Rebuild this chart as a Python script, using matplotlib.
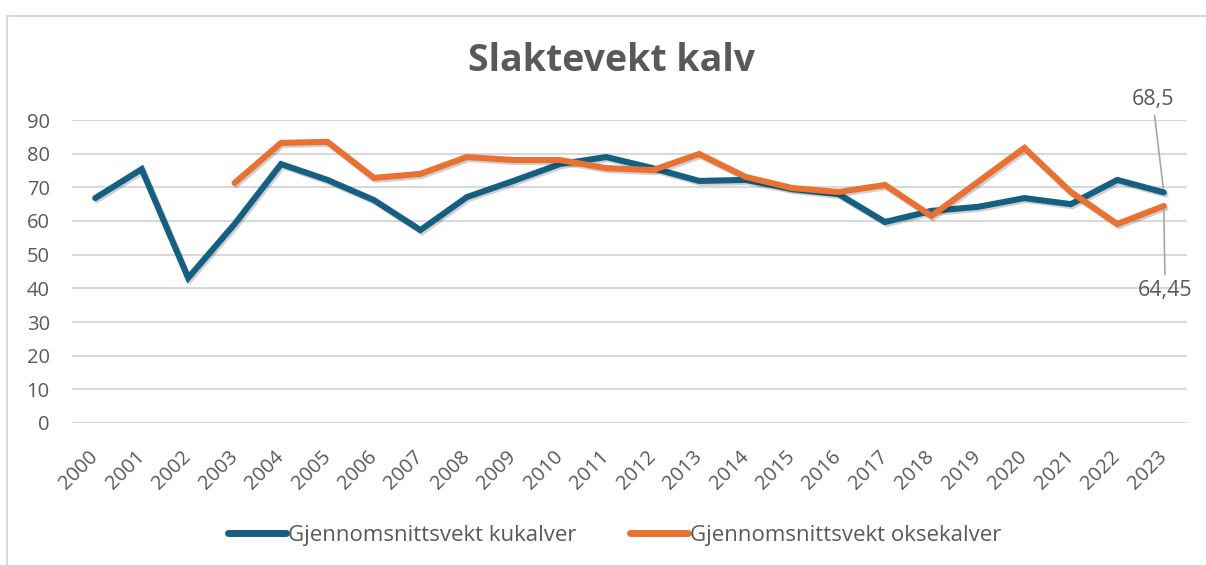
import matplotlib

matplotlib.use("Agg")

import numpy as np
from matplotlib import pyplot as plt
from matplotlib import patheffects as pe
from matplotlib.lines import Line2D

# data
years = [str(y) for y in range(2000, 2024)]
kukalver = [66.8, 75.4, 43.1, 59.1, 76.9, 72.2, 66.2, 57.3, 67.1, 71.9, 76.9, 79.0,
            75.7, 71.9, 72.2, 69.5, 68.0, 59.7, 63.0, 64.2, 66.8, 65.0, 72.2, 68.5]
oksekalver = [np.nan, np.nan, np.nan, 71.3, 83.2, 83.5, 72.8, 74.0, 79.0, 78.1, 78.1,
              75.7, 75.1, 79.9, 73.1, 69.8, 68.6, 70.7, 61.5, 71.6, 81.7, 68.6, 59.1, 64.45]
y_ticks = list(range(0, 100, 10))

BLUE = "#156082"
ORANGE = "#E97132"
TEXT = "#595959"
GRID = "#D9D9D9"
FONT = ["Open Sans", "DejaVu Sans"]

plt.rcParams["font.family"] = FONT

fig = plt.figure(figsize=(12.06, 5.65), dpi=100)
W, H = 1206, 565
ax = fig.add_axes([72 / W, 1 - 423 / H, (1187 - 72) / W, (423 - 120) / H])

shadow = [pe.SimpleLineShadow(offset=(1.2, -1.5), alpha=0.18, shadow_color="black"), pe.Normal()]
x = np.arange(len(years))
ax.plot(x, kukalver, color=BLUE, lw=4.4, solid_capstyle="round", solid_joinstyle="miter",
        path_effects=shadow, zorder=3)
ax.plot(x, oksekalver, color=ORANGE, lw=4.4, solid_capstyle="round", solid_joinstyle="miter",
        path_effects=shadow, zorder=3)

ax.set_xlim(-0.5, len(years) - 0.5)
ax.set_ylim(0, 90)
ax.set_yticks(y_ticks)
ax.set_xticks(x)
ax.set_xticklabels(years, rotation=45, ha="right", va="center", rotation_mode="anchor")
ax.tick_params(axis="both", length=0, labelsize=14.5, labelcolor=TEXT)
ax.tick_params(axis="x", pad=22)
ax.tick_params(axis="y", pad=16)
ax.grid(axis="y", color=GRID, lw=1.5)
ax.set_axisbelow(True)
for s in ax.spines.values():
    s.set_visible(False)

# end-point labels with leader lines
ax.annotate("68,5", xy=(x[-1], kukalver[-1]), xytext=(-8, 67), textcoords="offset points",
            ha="center", va="center", fontsize=15.5, color=TEXT,
            arrowprops=dict(arrowstyle="-", color="#A6A6A6", lw=1.2, shrinkA=2, shrinkB=3))
ax.annotate("64,45", xy=(x[-1], oksekalver[-1]), xytext=(1, -61), textcoords="offset points",
            ha="center", va="center", fontsize=15.5, color=TEXT,
            arrowprops=dict(arrowstyle="-", color="#A6A6A6", lw=1.2, shrinkA=2, shrinkB=3))

fig.text(612 / W, 1 - 61 / H, "Slaktevekt kalv", ha="center", va="center",
         fontsize=27, fontweight="bold", color=TEXT)

handles = [Line2D([], [], color=BLUE, lw=5, solid_capstyle="round"),
           Line2D([], [], color=ORANGE, lw=5, solid_capstyle="round")]
leg = fig.legend(handles, ["Gjennomsnittsvekt kukalver", "Gjennomsnittsvekt oksekalver"],
                 loc="center", bbox_to_anchor=(615 / W, 1 - 535 / H), ncol=2, frameon=False,
                 fontsize=16, handlelength=2.6, handletextpad=0.1, columnspacing=2.4)
for t in leg.get_texts():
    t.set_color(TEXT)

# chart frame
fig.add_artist(Line2D([7 / W, 7 / W], [0, 1 - 15.5 / H], color=GRID, lw=1.5))
fig.add_artist(Line2D([7 / W, 1], [1 - 15.5 / H, 1 - 15.5 / H], color=GRID, lw=1.5))

fig.savefig("out.png", dpi=100)
